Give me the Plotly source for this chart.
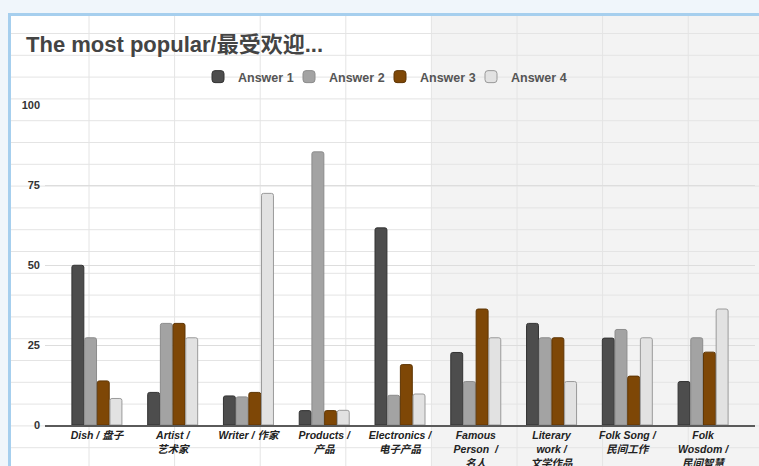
import plotly.graph_objects as go

# Survey results: share of answers (%) per question
categories = [
    "Dish / 盘子",
    "Artist /<br>艺术家",
    "Writer / 作家",
    "Products /<br>产品",
    "Electronics /<br>电子产品",
    "Famous<br>Person  /<br>名人",
    "Literary<br>work /<br>文学作品",
    "Folk Song /<br>民间工作",
    "Folk<br>Wosdom /<br>民间智慧",
]
answer1 = [50.0, 10.2, 9.1, 4.5, 61.7, 22.7, 31.8, 27.2, 13.6]
answer2 = [27.3, 31.8, 8.8, 85.5, 9.3, 13.6, 27.3, 29.9, 27.3]
answer3 = [13.8, 31.8, 10.2, 4.5, 18.9, 36.3, 27.3, 15.3, 22.8]
answer4 = [8.3, 27.3, 72.5, 4.6, 9.7, 27.3, 13.6, 27.3, 36.3]
series_names = ["Answer 1", "Answer 2", "Answer 3", "Answer 4"]
y_ticks = [0, 25, 50, 75, 100]

W, H = 759, 466
FONT = "Liberation Sans, Arial, Noto Sans CJK SC, sans-serif"

fills = ["#4d4d4d", "#a3a3a3", "#7e4706", "#e2e2e2"]
edges = ["#333333", "#8c8c8c", "#5e3504", "#9a9a9a"]


def px(x):
    return x / W


def py(y):
    return 1 - y / H


fig = go.Figure()
for name, vals, fc, ec in zip(series_names, [answer1, answer2, answer3, answer4], fills, edges):
    fig.add_trace(go.Bar(
        name=name, x=categories, y=vals,
        marker=dict(color=fc, line=dict(color=ec, width=1), cornerradius=2),
    ))
# empty, invisible entry that pads the legend row so the last label is not clipped
fig.add_trace(go.Scatter(x=[None], y=[None], mode="markers", name=" ",
                         marker=dict(color="rgba(0,0,0,0)", size=1,
                                     line=dict(width=0, color="rgba(0,0,0,0)")),
                         hoverinfo="skip"))

# sheet background: frame, shaded columns and cell grid
shapes = [
    dict(type="rect", xref="paper", yref="paper", x0=px(10), x1=px(790), y0=py(500), y1=py(14),
         fillcolor="#ffffff", line=dict(width=0), layer="below"),
    dict(type="rect", xref="paper", yref="paper", x0=px(432), x1=px(790), y0=py(500), y1=py(14),
         fillcolor="#f3f3f3", line=dict(width=0), layer="below"),
]
y = 33.5
while y < H:
    shapes.append(dict(type="line", xref="paper", yref="paper", x0=px(10), x1=px(W), y0=py(y), y1=py(y),
                       line=dict(color="#e4e4e4", width=1), layer="below"))
    y += 21.8
x = 89.0
while x < W:
    shapes.append(dict(type="line", xref="paper", yref="paper", x0=px(x), x1=px(x), y0=py(H), y1=py(14),
                       line=dict(color="#e4e4e4", width=1), layer="below"))
    x += 85.6
# frame border
shapes.append(dict(type="line", xref="paper", yref="paper", x0=px(9), x1=px(W), y0=py(14.5), y1=py(14.5),
                   line=dict(color="#a6cfee", width=3)))
shapes.append(dict(type="line", xref="paper", yref="paper", x0=px(9.5), x1=px(9.5), y0=py(H), y1=py(13),
                   line=dict(color="#a6cfee", width=3)))

fig.update_layout(
    width=W, height=H,
    margin=dict(l=0, r=0, t=0, b=0, autoexpand=False),
    paper_bgcolor="#f0f6fb",
    plot_bgcolor="rgba(0,0,0,0)",
    font=dict(family=FONT, color="#333333"),
    barmode="group",
    bargap=0.33,
    bargroupgap=0.06,
    shapes=shapes,
    title=dict(text="The most popular/最受欢迎...", x=px(26), xanchor="left", y=py(44), yanchor="middle",
               font=dict(family=FONT, size=22, color="#444444", weight="bold")),
    legend=dict(orientation="h", x=px(198), xanchor="left", y=py(77), yanchor="middle",
                bgcolor="rgba(0,0,0,0)", font=dict(size=12.5, color="#555555", weight="bold"),
                itemwidth=30, traceorder="normal", entrywidth=46, entrywidthmode="pixels"),
    xaxis=dict(domain=[px(45), px(755)], range=[-0.685, 8.685], showline=True, linecolor="#5a5a5a",
               linewidth=1.5, showgrid=False, ticks="", fixedrange=True, automargin=False,
               tickfont=dict(size=10.5, color="#222222", weight="bold", style="italic")),
    yaxis=dict(domain=[py(425), py(105.5)], range=[0, 100], tickvals=y_ticks, showgrid=True,
               gridcolor="#dddddd", gridwidth=1, zeroline=False, showline=False, ticks="",
               automargin=False, ticklabelstandoff=4,
               tickfont=dict(size=11, color="#333333", weight="bold")),
)

fig.write_html("out.html")
